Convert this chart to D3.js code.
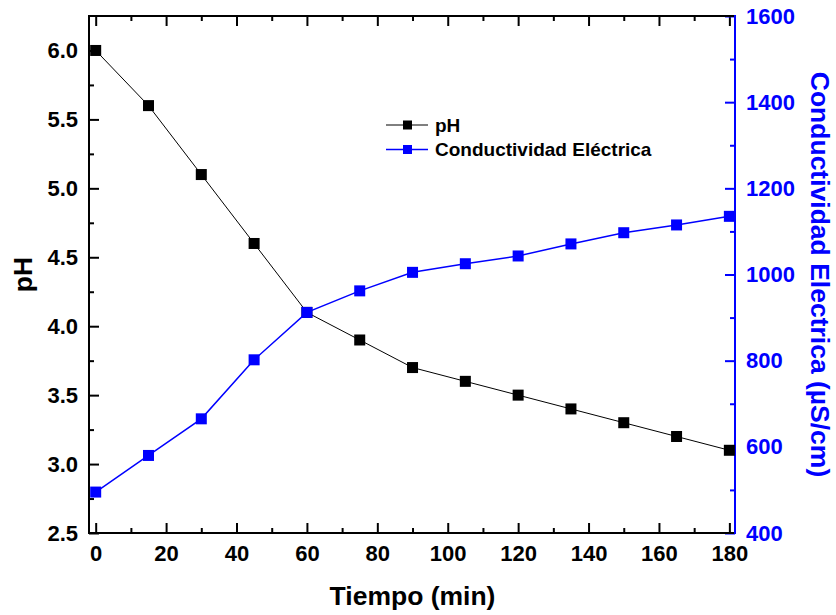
<!DOCTYPE html>
<html>
<head>
<meta charset="utf-8">
<script src="https://d3js.org/d3.v7.min.js"></script>
<style>
  body { margin: 0; background: #fff; }
  text { font-family: "Liberation Sans", Arial, sans-serif; font-weight: bold; }
</style>
</head>
<body>
<div class="g-chart"></div>
<script>
//Local data
var tiempo = [0, 15, 30, 45, 60, 75, 90, 105, 120, 135, 150, 165, 180];
var ph = [6.0, 5.6, 5.1, 4.6, 4.1, 3.9, 3.7, 3.6, 3.5, 3.4, 3.3, 3.2, 3.1];
var conductividad = [495, 580, 665, 802, 912, 962, 1005, 1025, 1043, 1071, 1097, 1115, 1135];

//Tick labels
var xTicks = [0, 20, 40, 60, 80, 100, 120, 140, 160, 180];
var phTicks = [2.5, 3.0, 3.5, 4.0, 4.5, 5.0, 5.5, 6.0];
var ceTicks = [400, 600, 800, 1000, 1200, 1400, 1600];

//Legend labels
var seriesNames = ["pH", "Conductividad Eléctrica"];

//Margin conventions
var margin = {top: 16, right: 101, bottom: 82, left: 89};
var fullWidth = 836, fullHeight = 615;
var width = fullWidth - margin.left - margin.right,
    height = fullHeight - margin.top - margin.bottom;

var blue = "#0000ff";

//Appends the svg
var svg = d3.select(".g-chart").append("svg")
  .attr("width", fullWidth)
  .attr("height", fullHeight)
  .append("g")
  .attr("transform", "translate(" + margin.left + "," + margin.top + ")");

//Scales
var xScale = d3.scaleLinear().domain([-1.9, 181.6]).range([0, width]);
var yPh = d3.scaleLinear().domain([2.5, 6.25]).range([height, 0]);
var yCe = d3.scaleLinear().domain([400, 1600]).range([height, 0]);

//Minor tick values
var xMinor = d3.range(10, 180, 20);
var phMinor = d3.range(2.75, 6.25, 0.5);
var ceMinor = d3.range(500, 1600, 200);

//Axis helper: major + minor inward ticks, styled
function drawAxis(axisFn, scale, major, minor, transform, color, fmt, labelled) {
  var gMinor = svg.append("g")
    .attr("transform", transform)
    .call(axisFn(scale).tickValues(minor).tickSize(-5).tickFormat(""));
  var g = svg.append("g")
    .attr("transform", transform)
    .call(axisFn(scale).tickValues(major).tickSize(-10).tickPadding(20)
      .tickFormat(labelled ? fmt : ""));
  [g, gMinor].forEach(function(sel) {
    sel.select(".domain").remove();
    sel.selectAll(".tick line").attr("stroke", color).attr("stroke-width", 2);
  });
  g.selectAll(".tick text")
    .attr("fill", color)
    .style("font-size", "22px");
  return g;
}

//Bottom and top x axes
var xBottom = drawAxis(d3.axisBottom, xScale, xTicks, xMinor, "translate(0," + height + ")", "#000", d3.format("d"), true);
xBottom.selectAll(".tick text").attr("dy", "0.71em").attr("y", 12);
drawAxis(d3.axisTop, xScale, xTicks, xMinor, "translate(0,0)", "#000", d3.format("d"), false);

//Left pH axis
var yLeft = drawAxis(d3.axisLeft, yPh, phTicks, phMinor, "translate(0,0)", "#000", d3.format(".1f"), true);
yLeft.selectAll(".tick text").attr("x", -11);

//Right conductivity axis
var yRight = drawAxis(d3.axisRight, yCe, ceTicks, ceMinor, "translate(" + width + ",0)", blue, d3.format("d"), true);
yRight.selectAll(".tick text").attr("x", 11);

//Frame lines
svg.append("line").attr("x1", 0).attr("x2", width).attr("y1", height).attr("y2", height)
  .attr("stroke", "#000").attr("stroke-width", 2);
svg.append("line").attr("x1", 0).attr("x2", width).attr("y1", 0).attr("y2", 0)
  .attr("stroke", "#000").attr("stroke-width", 2);
svg.append("line").attr("x1", 0).attr("x2", 0).attr("y1", -1).attr("y2", height + 1)
  .attr("stroke", "#000").attr("stroke-width", 2);
svg.append("line").attr("x1", width).attr("x2", width).attr("y1", -1).attr("y2", height + 1)
  .attr("stroke", blue).attr("stroke-width", 2);

//Series data
var phData = tiempo.map(function(t, i) { return {x: t, y: ph[i]}; });
var ceData = tiempo.map(function(t, i) { return {x: t, y: conductividad[i]}; });

var markerSize = 11;

//pH line and markers
svg.append("path")
  .datum(phData)
  .attr("fill", "none")
  .attr("stroke", "#000")
  .attr("stroke-width", 1)
  .attr("d", d3.line().x(function(d) { return xScale(d.x); }).y(function(d) { return yPh(d.y); }));

svg.selectAll(".ph-pt")
  .data(phData)
  .enter()
  .append("rect")
  .attr("class", "ph-pt")
  .attr("x", function(d) { return xScale(d.x) - markerSize / 2; })
  .attr("y", function(d) { return yPh(d.y) - markerSize / 2; })
  .attr("width", markerSize)
  .attr("height", markerSize)
  .attr("fill", "#000");

//Conductivity line and markers
svg.append("path")
  .datum(ceData)
  .attr("fill", "none")
  .attr("stroke", blue)
  .attr("stroke-width", 1.5)
  .attr("d", d3.line().x(function(d) { return xScale(d.x); }).y(function(d) { return yCe(d.y); }));

svg.selectAll(".ce-pt")
  .data(ceData)
  .enter()
  .append("rect")
  .attr("class", "ce-pt")
  .attr("x", function(d) { return xScale(d.x) - markerSize / 2; })
  .attr("y", function(d) { return yCe(d.y) - markerSize / 2; })
  .attr("width", markerSize)
  .attr("height", markerSize)
  .attr("fill", blue);

//Axis titles
svg.append("text")
  .attr("x", xScale(90))
  .attr("y", height + 72)
  .attr("text-anchor", "middle")
  .style("font-size", "26.5px")
  .text("Tiempo (min)");

svg.append("text")
  .attr("transform", "translate(" + (31.7 - margin.left) + "," + (height / 2) + ") rotate(-90)")
  .attr("text-anchor", "middle")
  .style("font-size", "26.5px")
  .text("pH");

svg.append("text")
  .attr("transform", "translate(" + (811 - margin.left) + "," + (height / 2) + ") rotate(90)")
  .attr("text-anchor", "middle")
  .attr("fill", blue)
  .style("font-size", "26.5px")
  .text("Conductividad Electrica (µS/cm)");

//Legend
var legendColors = ["#000", blue];
var legend = svg.selectAll(".legend")
  .data(seriesNames)
  .enter()
  .append("g")
  .attr("class", "legend")
  .attr("transform", function(d, i) {
    return "translate(" + (386 - margin.left) + "," + (125 - margin.top + i * 24.5) + ")";
  });

legend.append("line")
  .attr("x1", 0).attr("x2", 42)
  .attr("stroke", function(d, i) { return legendColors[i]; })
  .attr("stroke-width", function(d, i) { return i ? 1.5 : 1; });

legend.append("rect")
  .attr("x", 17).attr("y", -4.5)
  .attr("width", 9).attr("height", 9)
  .attr("fill", function(d, i) { return legendColors[i]; });

legend.append("text")
  .attr("x", 49)
  .attr("y", 6.5)
  .style("font-size", "19px")
  .text(function(d) { return d; });
</script>
</body>
</html>
